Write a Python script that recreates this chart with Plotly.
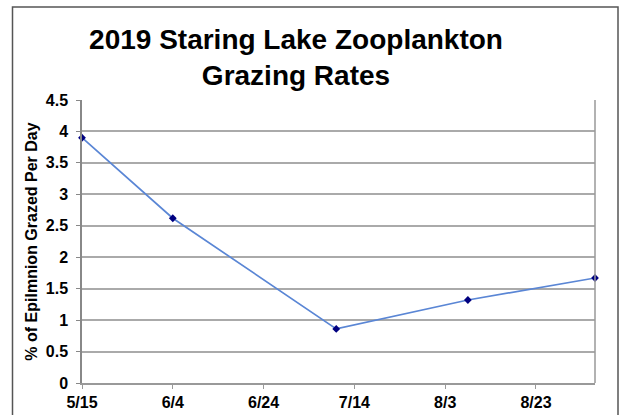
import plotly.graph_objects as go

# Data
dates = ["2019-05-15", "2019-06-04", "2019-07-10", "2019-08-08", "2019-09-05"]
rates = [3.9, 2.62, 0.86, 1.32, 1.67]
tick_dates = ["2019-05-15", "2019-06-04", "2019-06-24", "2019-07-14", "2019-08-03", "2019-08-23"]
tick_labels = ["5/15", "6/4", "6/24", "7/14", "8/3", "8/23"]
y_ticks = [0, 0.5, 1, 1.5, 2, 2.5, 3, 3.5, 4, 4.5]
y_labels = ["0", "0.5", "1", "1.5", "2", "2.5", "3", "3.5", "4", "4.5"]
title_lines = ["2019 Staring Lake Zooplankton", "Grazing Rates"]

FONT = "Arial, Liberation Sans, sans-serif"
PLOT_H = 282.7
BOTTOM = 382.7

fig = go.Figure()
fig.add_trace(go.Scatter(
    x=dates, y=rates, mode="lines+markers",
    line=dict(color="#5A86D5", width=1.7),
    marker=dict(symbol="diamond", size=6, color="#000080"),
    showlegend=False, cliponaxis=False,
))

fig.update_layout(
    width=619, height=415,
    margin=dict(l=82, r=24, t=100, b=32),
    paper_bgcolor="white", plot_bgcolor="white",
    font=dict(family=FONT, color="black"),
    title=dict(
        text="<b>" + "<br>".join(title_lines) + "</b>",
        x=296/619, xref="container", xanchor="center",
        y=1-48.5/415, yref="container", yanchor="middle",
        font=dict(size=28, family=FONT, color="black"),
    ),
    xaxis=dict(
        type="date", automargin=False,
        range=["2019-05-15", "2019-09-05"],
        tickmode="array", tickvals=tick_dates,
        ticktext=["<b>%s</b>" % t for t in tick_labels],
        ticks="outside", ticklen=4, tickcolor="#999999",
        ticklabelstandoff=0,
        showgrid=False, showline=True, linecolor="#999999", linewidth=1.5,
        mirror=False, zeroline=False,
        tickfont=dict(size=16, family=FONT, color="black"),
    ),
    yaxis=dict(
        range=[0, 4.5], automargin=False,
        tickmode="array", tickvals=y_ticks,
        ticktext=["<b>%s</b>" % t for t in y_labels],
        ticks="outside", ticklen=4, tickcolor="#888888",
        ticklabelstandoff=5,
        showgrid=True, gridcolor="#AAAAAA", gridwidth=1.5,
        showline=True, linecolor="#888888", linewidth=1.5,
        zeroline=False,
        tickfont=dict(size=16, family=FONT, color="black"),
        title=dict(text="<b>% of Epilmnion Grazed Per Day</b>",
                   font=dict(size=16, family=FONT, color="black"), standoff=4),
    ),
    shapes=[
        dict(type="line", xref="paper", yref="paper", x0=1, x1=1, y0=0, y1=1,
             line=dict(color="#999999", width=1.5)),
        dict(type="rect", xref="paper", yref="paper",
             x0=(12.5-82)/513, x1=(618-82)/513,
             y0=-0.3, y1=(BOTTOM-7)/PLOT_H,
             line=dict(color="#555555", width=1.5), layer="below"),
    ],
)

fig.write_html("out.html", config={"displayModeBar": False},
               post_script="document.body.style.margin='0';")
